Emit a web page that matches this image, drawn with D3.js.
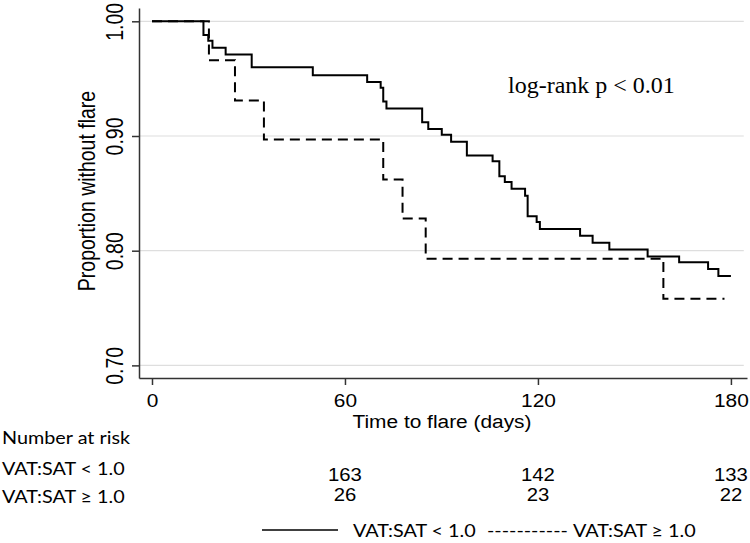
<!DOCTYPE html>
<html>
<head>
<meta charset="utf-8">
<script src="https://cdn.jsdelivr.net/npm/d3@7"></script>
<style>
body { margin: 0; background: #fff; }
</style>
</head>
<body>
<svg id="chart" width="750" height="543"></svg>
<script>
// Kaplan-Meier steps (days, proportion without flare)
var timeLow = [0, 16, 17.5, 18.8, 22.9, 31, 50, 66.9, 71.1, 71.9, 72.9, 84, 85.9, 90.1, 93, 97.9,
  105.9, 108, 109.7, 111.8, 116, 116.8, 119.6, 120.6, 133.1, 137, 142.2, 154.1, 163.9, 172.9, 176.1];
var survLow = [1, 0.988, 0.983, 0.977, 0.971, 0.960, 0.953, 0.947, 0.942, 0.930, 0.924, 0.912, 0.906, 0.901, 0.895, 0.883,
  0.878, 0.865, 0.860, 0.854, 0.848, 0.830, 0.825, 0.819, 0.813, 0.807, 0.801, 0.795, 0.790, 0.784, 0.778];
var endLow = 180;

var timeHigh = [0, 17.7, 25.8, 34.8, 71.9, 77.9, 85.1, 159];
var survHigh = [1, 0.966, 0.931, 0.897, 0.862, 0.828, 0.793, 0.758];
var endHigh = 178;

// Number at risk
var riskTimes = [60, 120, 180];
var riskLow = [163, 142, 133];
var riskHigh = [26, 23, 22];

var xTicks = [0, 60, 120, 180];
var yTicks = [0.70, 0.80, 0.90, 1.00];

var labelLow = "VAT:SAT < 1.0";
var labelHigh = "VAT:SAT \u2265 1.0";

var axisFont = "'Liberation Sans', Arial, Helvetica, sans-serif";
var tableFont = "Lato, 'Open Sans', sans-serif";

// the original picture is stretched sideways a bit, so text gets a horizontal scale
var stretch = 1.16;

var svg = d3.select("#chart");

// Scales
var x = d3.scaleLinear().domain([-4.04, 185]).range([139, 747]);
var y = d3.scaleLinear().domain([0.689, 1.0116]).range([378, 8]);

// Gridlines
svg.append("g")
  .selectAll("line")
  .data(yTicks)
  .enter()
  .append("line")
  .attr("x1", x(-4.04))
  .attr("x2", x(184))
  .attr("y1", function(d){ return y(d); })
  .attr("y2", function(d){ return y(d); })
  .style("stroke", "#dedede")
  .style("stroke-width", 1.2);

// Curves
function stepPoints(times, surv, end){
  var pts = times.map(function(t, i){ return [t, surv[i]]; });
  pts.push([end, surv[surv.length - 1]]);
  return pts;
}

var line = d3.line()
  .x(function(d){ return x(d[0]); })
  .y(function(d){ return y(d[1]); })
  .curve(d3.curveStepAfter);

svg.append("path")
  .attr("d", line(stepPoints(timeHigh, survHigh, endHigh)))
  .style("fill", "none")
  .style("stroke", "#000")
  .style("stroke-width", 2)
  .style("stroke-dasharray", "10,6");

svg.append("path")
  .attr("d", line(stepPoints(timeLow, survLow, endLow)))
  .style("fill", "none")
  .style("stroke", "#000")
  .style("stroke-width", 2);

// Axes
var xAxis = svg.append("g")
  .attr("transform", "translate(0,378)")
  .call(d3.axisBottom(x).tickValues(xTicks).tickSize(7).tickSizeOuter(0));

xAxis.selectAll("text")
  .attr("y", 0)
  .attr("dy", null)
  .attr("transform", "translate(0,29) scale(" + stretch + ",1)")
  .style("font-family", axisFont)
  .style("font-size", "18px")
  .style("fill", "#000");

var yAxis = svg.append("g")
  .attr("transform", "translate(139,0)")
  .call(d3.axisLeft(y).tickValues(yTicks).tickSize(7).tickSizeOuter(0).tickFormat(d3.format(".2f")));

yAxis.selectAll("text")
  .attr("x", 0)
  .attr("y", 0)
  .attr("dy", null)
  .attr("transform", "translate(-16,0) scale(1.2,1) rotate(-90)")
  .style("text-anchor", "middle")
  .style("font-family", axisFont)
  .style("font-size", "19.5px")
  .style("fill", "#000");

svg.selectAll(".domain, .tick line")
  .style("stroke", "#333")
  .style("stroke-width", 1.5);

// Axis titles
svg.append("text")
  .attr("transform", "translate(442,428) scale(" + stretch + ",1)")
  .attr("text-anchor", "middle")
  .style("font-family", axisFont)
  .style("font-size", "18px")
  .text("Time to flare (days)");

svg.append("text")
  .attr("transform", "translate(95,191) scale(1.2,1) rotate(-90)")
  .attr("text-anchor", "middle")
  .style("font-family", axisFont)
  .style("font-size", "19.5px")
  .text("Proportion without flare");

// log-rank annotation
svg.append("text")
  .attr("x", 508)
  .attr("y", 93)
  .style("font-family", "'Liberation Serif', 'Times New Roman', serif")
  .style("font-size", "24px")
  .text("log-rank p < 0.01");

// Number at risk table
function tableText(px, py, txt){
  svg.append("text")
    .attr("transform", "translate(" + px + "," + py + ") scale(1.2,1)")
    .style("font-family", tableFont)
    .style("font-size", "16.5px")
    .text(txt);
}

tableText(2, 444, "Number at risk");
tableText(2, 475, labelLow);
tableText(2, 503, labelHigh);

svg.append("g")
  .selectAll("text")
  .data(riskTimes)
  .enter()
  .append("text")
  .attr("transform", function(d){ return "translate(" + x(d) + ",481) scale(" + stretch + ",1)"; })
  .attr("text-anchor", "middle")
  .style("font-family", axisFont)
  .style("font-size", "17.5px")
  .text(function(d, i){ return riskLow[i]; });

svg.append("g")
  .selectAll("text")
  .data(riskTimes)
  .enter()
  .append("text")
  .attr("transform", function(d){ return "translate(" + x(d) + ",501) scale(" + stretch + ",1)"; })
  .attr("text-anchor", "middle")
  .style("font-family", axisFont)
  .style("font-size", "17.5px")
  .text(function(d, i){ return riskHigh[i]; });

// Legend
svg.append("line")
  .attr("x1", 262)
  .attr("x2", 338)
  .attr("y1", 530)
  .attr("y2", 530)
  .style("stroke", "#000")
  .style("stroke-width", 1.3);

tableText(353, 537, labelLow);
tableText(487, 537, "-----------");
tableText(573, 537, labelHigh);
</script>
</body>
</html>
